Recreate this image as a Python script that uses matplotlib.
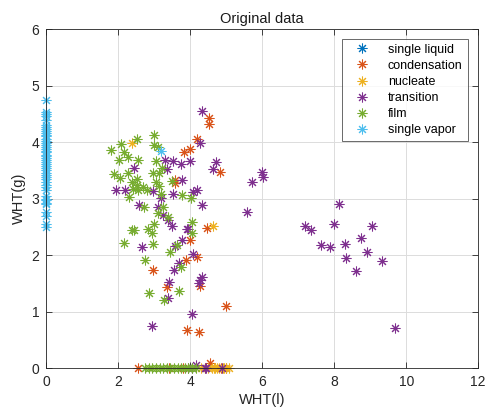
import matplotlib
matplotlib.use("Agg")
import matplotlib.pyplot as plt

plt.rcParams['font.family'] = ['Liberation Sans', 'DejaVu Sans']

labels = ["single liquid", "condensation", "nucleate", "transition", "film", "single vapor"]
colors = ["#0072BD", "#D95319", "#EDB120", "#7E2F8E", "#77AC30", "#4DBEEE"]

liq_x = []
liq_y = []

con_x = [4.51, 4.51, 4.19, 3.99, 3.83, 4.84, 3.59, 3.59, 4.47, 3.99, 4.18, 3.88, 2.97, 3.36, 4.26, 5.00, 3.90, 4.25,
         2.56, 3.40, 3.80, 4.55, 4.85, 5.00]
con_y = [4.43, 4.32, 4.05, 3.88, 3.82, 3.48, 3.33, 3.28, 2.49, 2.27, 1.96, 1.92, 1.73, 1.44, 1.46, 1.10, 0.67, 0.64,
         0.00, 0.00, 0.00, 0.09, 0.00, 0.00]

nuc_x = [2.39, 4.64, 4.30, 4.40, 4.50, 4.60, 4.70, 4.80, 4.90, 5.00, 5.08, 4.65, 4.75, 4.95]
nuc_y = [3.99, 2.52, 0.00, 0.00, 0.00, 0.00, 0.00, 0.00, 0.00, 0.00, 0.00, 0.00, 0.00, 0.00]

tra_x = [4.34, 4.28, 4.71, 4.62, 5.98, 6.03, 5.72, 5.57, 7.20, 7.35, 8.14, 8.00, 9.04, 8.73, 7.63, 7.88, 8.30, 8.34,
         8.90, 9.33, 8.60, 9.69, 2.45, 1.94, 2.18, 2.97, 3.30, 3.51, 3.36, 3.73, 3.99, 3.76, 3.53, 3.20, 4.08, 4.20,
         4.34, 2.59, 3.10, 3.23, 3.39, 3.49, 3.90, 3.94, 3.76, 2.67, 3.59, 4.09, 3.69, 3.54, 3.41, 4.32, 4.27, 4.23,
         3.39, 4.04, 2.94, 4.15, 4.05, 4.40, 4.45, 4.88, 3.95]
tra_y = [4.55, 3.98, 3.65, 3.53, 3.47, 3.39, 3.30, 2.76, 2.52, 2.44, 2.91, 2.56, 2.51, 2.30, 2.18, 2.14, 2.20, 1.95,
         2.06, 1.90, 1.72, 0.72, 3.54, 3.15, 3.15, 3.14, 3.68, 3.66, 3.52, 3.62, 3.66, 3.33, 3.08, 3.01, 3.12, 3.16,
         2.88, 2.89, 2.86, 2.71, 2.62, 2.52, 2.46, 2.47, 2.27, 2.15, 2.16, 2.03, 1.86, 1.73, 1.53, 1.62, 1.56, 1.50,
         1.24, 0.96, 0.75, 0.06, 0.00, 0.00, 0.00, 0.00, 0.00]

film_x = [1.81, 2.08, 2.16, 2.51, 3.00, 2.99, 3.11, 2.02, 2.27, 2.56, 3.06, 1.89, 2.05, 2.27, 2.37, 2.51, 2.51, 2.69,
          2.42, 2.56, 2.79, 2.97, 3.13, 3.22, 3.06, 3.13, 3.20, 3.48, 2.30, 3.76, 4.01, 2.71, 3.25, 3.11, 3.39, 3.00,
          2.83, 2.95, 2.37, 2.44, 4.04, 4.06, 2.16, 2.97, 3.62, 3.45, 3.74, 2.74, 2.85, 3.69, 3.27,
          2.75, 2.85, 2.95, 3.05, 3.15, 3.25, 3.35, 3.45, 3.55, 3.65, 3.75, 3.85, 3.95, 4.05, 4.15]
film_y = [3.86, 3.97, 3.83, 4.05, 4.12, 3.95, 3.92, 3.68, 3.74, 3.69, 3.66, 3.44, 3.37, 3.45, 3.30, 3.35, 3.24, 3.21,
          3.17, 3.15, 3.15, 3.45, 3.45, 3.54, 3.29, 3.23, 3.09, 3.31, 3.03, 3.06, 3.02, 2.86, 2.86, 2.74, 2.67, 2.55,
          2.46, 2.39, 2.45, 2.45, 2.58, 2.39, 2.21, 2.20, 2.18, 2.05, 1.80, 1.92, 1.34, 1.37, 1.20,
          0.00, 0.00, 0.00, 0.00, 0.00, 0.00, 0.00, 0.00, 0.00, 0.00, 0.00, 0.00, 0.00, 0.00, 0.00]

vap_x = [3.19] + [0.0] * 46
vap_y = [3.85, 4.75, 4.53, 4.50, 4.47, 4.40, 4.30, 4.27, 4.24, 4.20, 4.17, 4.13, 4.10, 4.06, 4.02, 3.98, 3.95, 3.92,
         3.88, 3.85, 3.82, 3.78, 3.75, 3.72, 3.68, 3.65, 3.61, 3.58, 3.54, 3.50, 3.46, 3.42, 3.38, 3.34, 3.30, 3.25,
         3.20, 3.15, 3.05, 3.00, 2.97, 2.93, 2.90, 2.76, 2.70, 2.55, 2.50]

series = [(liq_x, liq_y), (con_x, con_y), (nuc_x, nuc_y), (tra_x, tra_y), (film_x, film_y), (vap_x, vap_y)]

fig = plt.figure(figsize=(4.87, 4.09), dpi=100)
ax = fig.add_axes([0.095, 0.0995, 0.887, 0.8295])

ast = (8, 2, 0)
for (xs, ys), lab, col in zip(series, labels, colors):
    ax.plot(xs, ys, linestyle='none', marker=ast, markersize=7, markeredgewidth=0.75,
            color=col, label=lab, clip_on=False)

ax.set_xlim(0, 12)
ax.set_ylim(0, 6)
ax.set_xticks([0, 2, 4, 6, 8, 10, 12])
ax.set_yticks([0, 1, 2, 3, 4, 5, 6])
ax.grid(True, color='#dcdcdc', linewidth=0.7)
ax.set_axisbelow(True)
for s in ax.spines.values():
    s.set_color('#262626')
    s.set_linewidth(0.6)
ax.tick_params(direction='in', top=True, right=True, length=4, width=0.6,
               colors='#262626', labelsize=10, pad=5)
ax.set_title("Original data", fontsize=10.5, color='#1a1a1a', pad=4)
ax.set_xlabel("WHT(l)", fontsize=10.5, color='#262626', labelpad=3)
ax.set_ylabel("WHT(g)", fontsize=10.5, color='#262626', labelpad=4)

leg = ax.legend(loc='upper right', bbox_to_anchor=(0.99, 0.99), fontsize=9,
                frameon=True, fancybox=False, edgecolor='#262626', borderpad=0.4,
                handletextpad=0.8, labelspacing=0.33, handlelength=2.5, borderaxespad=0.5)
leg.get_frame().set_linewidth(0.6)

fig.savefig("out.png", dpi=100)
